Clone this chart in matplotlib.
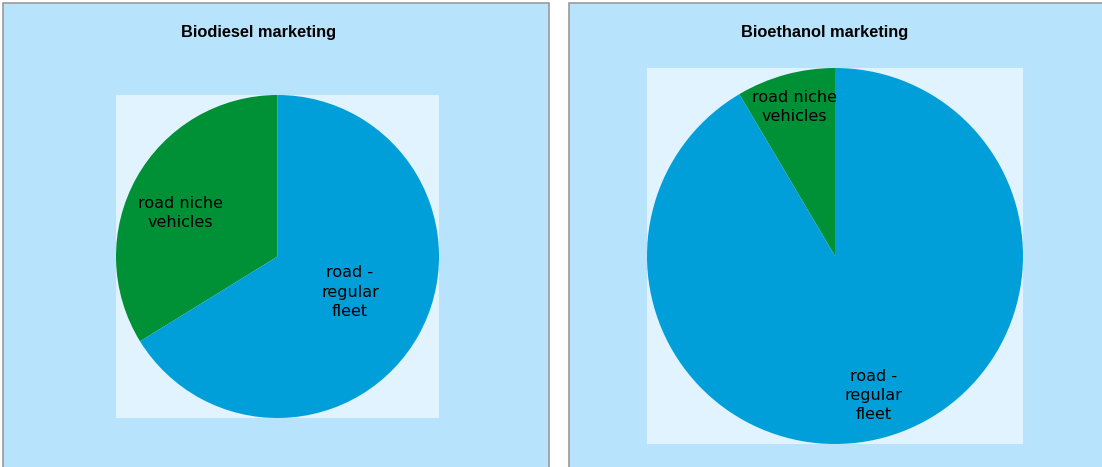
import matplotlib.pyplot as plt
from matplotlib.patches import Rectangle
import numpy as np

# datos (porcentajes)
categorias = ["road niche\nvehicles", "road -\nregular\nfleet"]
biodiesel = [33.8, 66.2]
bioetanol = [8.5, 91.5]
titulos = ["Biodiesel marketing", "Bioethanol marketing"]

colores = ["#009036", "#009FDA"]
fondo_panel = "#B8E3FC"
fondo_interior = "#E0F3FE"

W, H = 1102, 467
fig = plt.figure(figsize=(W / 100, H / 100), dpi=100)
fig.patch.set_facecolor("white")

# paneles de fondo (x0, x1 en pixeles)
paneles = [(3, 549), (569, 1110)]
for x0, x1 in paneles:
    fig.patches.append(Rectangle((x0 / W, -0.1), (x1 - x0) / W, (H - 3) / H + 0.1,
                                 transform=fig.transFigure, facecolor=fondo_panel,
                                 edgecolor="#9a9a9a", linewidth=1.2, zorder=-5))

# cajas de los ejes (izq, arriba, der, abajo) en pixeles
cajas = [(115, 95, 440, 418), (646, 68, 1024, 444)]
titulo_x = [259, 825]
# posicion de etiquetas: distancia al centro y desvio de angulo (grados)
distancias = [[0.66, 0.5], [0.82, 0.77]]
desvios = [[5, 3], [0, 0]]

for datos, caja, tit, tx, dist, desv in zip([biodiesel, bioetanol], cajas, titulos,
                                            titulo_x, distancias, desvios):
    l, t, r, b = caja
    ax = fig.add_axes([l / W, (H - b) / H, (r - l) / W, (b - t) / H])
    wedges, _ = ax.pie(datos, colors=colores, startangle=90, counterclock=True,
                       radius=1, frame=True)
    ax.set_xlim(-1, 1)
    ax.set_ylim(-1, 1)
    ax.set_facecolor(fondo_interior)
    ax.set_xticks([])
    ax.set_yticks([])
    for s in ax.spines.values():
        s.set_visible(False)
    # etiquetas dentro de cada sector
    for w, etiqueta, d, dg in zip(wedges, categorias, dist, desv):
        ang = np.deg2rad((w.theta1 + w.theta2) / 2 + dg)
        ax.text(d * np.cos(ang), d * np.sin(ang), etiqueta, ha="center", va="center",
                multialignment="center", fontsize=11.5, family="DejaVu Sans",
                color="black", linespacing=1.35)
    fig.text(tx / W, 1 - 32 / H, tit, ha="center", va="center", fontsize=11.8,
             fontweight="bold", family="Liberation Sans")

fig.savefig("out.png", dpi=100, facecolor=fig.get_facecolor())
